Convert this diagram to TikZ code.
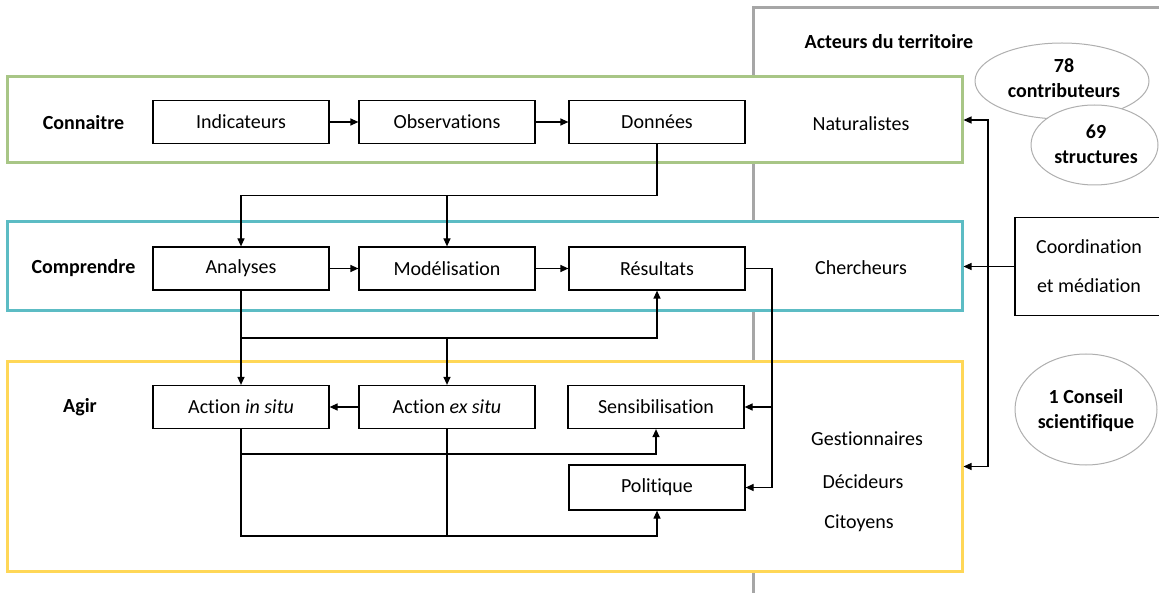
\documentclass[tikz,border=0pt]{standalone}
\usepackage{fontspec}
\setmainfont{Carlito}[Ligatures=NoCommon]
\usetikzlibrary{arrows.meta,shapes.geometric}
\definecolor{cgreen}{HTML}{A8C686}
\definecolor{ccyan}{HTML}{5CBCC4}
\definecolor{cyellow}{HTML}{FFD757}
\definecolor{cgray}{HTML}{A6A6A6}
\definecolor{cegray}{HTML}{AFAFAF}
\begin{document}
\begin{tikzpicture}[x=1pt,y=-1pt,
  txt/.style={font=\fontsize{20}{24}\selectfont, inner sep=0pt},
  btxt/.style={font=\fontsize{20}{24}\selectfont\bfseries, inner sep=0pt},
  otxt/.style={font=\fontsize{20}{25}\selectfont\bfseries, inner sep=0pt, align=center},
  stepbox/.style={draw, line width=1.2pt, minimum width=176pt, minimum height=43pt, inner sep=0pt, font=\fontsize{20}{24}\selectfont},
  band/.style={draw=#1, line width=3pt, minimum width=955pt, inner sep=0pt},
  oval/.style={ellipse, draw=cegray, line width=1pt, fill=white, inner sep=0pt},
  arr/.style={-{Triangle[length=8pt,width=7pt]}, line width=1.2pt},
  ln/.style={line width=1.2pt}]
\useasboundingbox (0,0) rectangle (1159,593);

% gray frame
\draw[cgray, line width=3pt] (753,594) -- (753,8) -- (1162,8);

% colored bands
\node[band=cgreen, minimum height=86pt, fill=white] (G) at (484.5,120) {};
\node[band=ccyan, minimum height=89pt, fill=white] (C) at (484.5,266.5) {};
\node[band=cyellow, minimum height=209pt, fill=white] (Y) at (484.5,466.5) {};

% labels
\node[btxt] (lcon) at (83.5,123) {Connaitre};
\node[btxt] (lcom) at (83.5,268) {Comprendre};
\node[btxt] (lagi) at (80,407) {Agir};

% boxes row 1
\node[stepbox] (ind) at (241,122) {Indicateurs};
\node[stepbox] (obs) at (447,122) {Observations};
\node[stepbox] (don) at (657,122) {Données};
% row 2
\node[stepbox] (ana) at (241,268.5) {Analyses};
\node[stepbox] (mod) at (447,268.5) {Modélisation};
\node[stepbox] (res) at (657,268.5) {Résultats};
% row 3
\node[stepbox] (ais) at (241,407) {Action \textit{in situ}};
\node[stepbox] (aes) at (447,407) {Action \textit{ex situ}};
\node[stepbox] (sen) at (656,407) {Sensibilisation};
\node[stepbox, minimum height=45pt] (pol) at (657,487.5) {Politique};

% right side texts
\node[txt] (nat) at (861,124) {Naturalistes};
\node[txt] (che) at (861,268) {Chercheurs};
\node[txt] (ges) at (867,439) {Gestionnaires};
\node[txt] (dec) at (863,482) {Décideurs};
\node[txt] (cit) at (859,523) {Citoyens};
\node[btxt] (act) at (889,42) {Acteurs du territoire};

% ellipses
\node[oval, minimum width=174pt, minimum height=76pt] (e78) at (1062,81) {};
\node[otxt] (t78) at (1064,78) {78\\contributeurs};
\node[oval, minimum width=127pt, minimum height=80pt] (e69) at (1094.5,145) {};
\node[otxt] (t69) at (1096,144) {69\\structures};
\node[oval, minimum width=142pt, minimum height=111pt] (e1) at (1086,409.5) {};
\node[otxt] (t1) at (1086,411) {1 Conseil\\scientifique};

% coordination box
\node[draw, line width=1.2pt, minimum width=148pt, minimum height=98pt, inner sep=0pt, align=center, font=\fontsize{20}{39}\selectfont] (coo) at (1089,266.5) {Coordination\\et médiation};

% connectors row arrows
\draw[arr] (ind.east) -- (obs.west);
\draw[arr] (obs.east) -- (don.west);
\draw[arr] (ana.east) -- (mod.west);
\draw[arr] (mod.east) -- (res.west);
\draw[arr] (aes.west) -- (ais.east);

% Donnees -> Analyses / Modelisation
\coordinate (d1) at (447,195.5);
\draw[arr] (don.south) |- (d1) -| (ana.north);
\draw[arr] (d1) -- (mod.north);

% Resultats -> Sensibilisation / Politique
\coordinate (r1) at (772,268.5);
\draw[ln] (res.east) -- (r1);
\draw[arr] (r1) |- (sen.east);
\draw[arr] (r1) |- (pol.east);

% Analyses -> Resultats / actions
\coordinate (c1) at (241,338);
\coordinate (c2) at (447,338);
\draw[arr] (ana.south) -- (ais.north);
\draw[arr] (c1) -| (res.south);
\draw[arr] (c2) -- (aes.north);

% Actions -> Sensibilisation / Politique
\coordinate (a1) at (241,454);
\coordinate (a2) at (241,536);
\coordinate (a3) at (447,536);
\draw[arr] (ais.south) -- (a1) -| (sen.south);
\draw[arr] (a1) -- (a2) -| (pol.south);
\draw[ln] (aes.south) -- (a3);

% Coordination -> groups
\coordinate (j) at (988,266.5);
\draw[arr] (coo.west) -- (C.east);
\draw[arr] (j) |- (G.east);
\draw[arr] (j) |- (Y.east);
\end{tikzpicture}
\end{document}
